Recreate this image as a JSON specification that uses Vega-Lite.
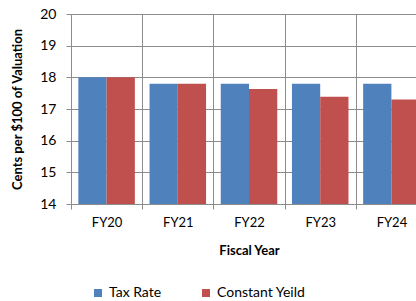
{
  "$schema": "https://vega.github.io/schema/vega-lite/v6.json",
  "width": 345,
  "height": 190,
  "autosize": {"type": "none"},
  "padding": {"left": 71, "top": 14, "right": 0, "bottom": 97},
  "background": "white",
  "data": {
    "values": [
      {"year": "FY20", "series": "Tax Rate", "value": 18.0},
      {"year": "FY20", "series": "Constant Yeild", "value": 18.0},
      {"year": "FY21", "series": "Tax Rate", "value": 17.8},
      {"year": "FY21", "series": "Constant Yeild", "value": 17.8},
      {"year": "FY22", "series": "Tax Rate", "value": 17.8},
      {"year": "FY22", "series": "Constant Yeild", "value": 17.63},
      {"year": "FY23", "series": "Tax Rate", "value": 17.8},
      {"year": "FY23", "series": "Constant Yeild", "value": 17.39},
      {"year": "FY24", "series": "Tax Rate", "value": 17.8},
      {"year": "FY24", "series": "Constant Yeild", "value": 17.3}
    ]
  },
  "mark": {"type": "bar"},
  "encoding": {
    "x": {
      "field": "year",
      "type": "nominal",
      "scale": {"range": [0, 356], "paddingInner": 0, "paddingOuter": 0},
      "axis": {
        "title": "Fiscal Year",
        "labelAngle": 0,
        "tickBand": "extent",
        "grid": true,
        "gridColor": "#8c8c8c",
        "domainColor": "#8c8c8c",
        "tickColor": "#8c8c8c",
        "tickSize": 5,
        "labelPadding": 7,
        "labelFont": "Lato",
        "labelFontSize": 13,
        "labelColor": "#000000",
        "titleFont": "Lato",
        "titleFontSize": 13,
        "titleFontWeight": "bold",
        "titleColor": "#000000",
        "titlePadding": 15
      }
    },
    "xOffset": {
      "field": "series",
      "type": "nominal",
      "sort": ["Tax Rate", "Constant Yeild"],
      "scale": {"paddingInner": 0, "paddingOuter": 0.26}
    },
    "y": {
      "field": "value",
      "type": "quantitative",
      "scale": {"domain": [14, 20], "nice": false, "zero": false},
      "axis": {
        "title": "Cents per $100 of Valuation",
        "values": [14, 15, 16, 17, 18, 19, 20],
        "grid": true,
        "gridColor": "#8c8c8c",
        "domainColor": "#8c8c8c",
        "tickColor": "#8c8c8c",
        "tickSize": 5,
        "labelPadding": 10,
        "labelFont": "Lato",
        "labelFontSize": 14,
        "labelColor": "#000000",
        "titleFont": "Lato",
        "titleFontSize": 13,
        "titleFontWeight": "bold",
        "titleColor": "#000000",
        "titlePadding": 15
      }
    },
    "y2": {"datum": 14},
    "color": {
      "field": "series",
      "type": "nominal",
      "sort": ["Tax Rate", "Constant Yeild"],
      "scale": {"domain": ["Tax Rate", "Constant Yeild"], "range": ["#4F81BD", "#C0504D"]},
      "legend": {
        "title": null,
        "orient": "none",
        "direction": "horizontal",
        "legendX": 20,
        "legendY": 272,
        "symbolType": "square",
        "symbolSize": 64,
        "symbolStrokeWidth": 0,
        "symbolOpacity": 1,
        "labelFont": "Lato",
        "labelFontSize": 14,
        "labelColor": "#000000",
        "labelOffset": 4,
        "gridAlign": "all",
        "columnPadding": 1
      }
    }
  },
  "config": {"view": {"stroke": null}}
}
